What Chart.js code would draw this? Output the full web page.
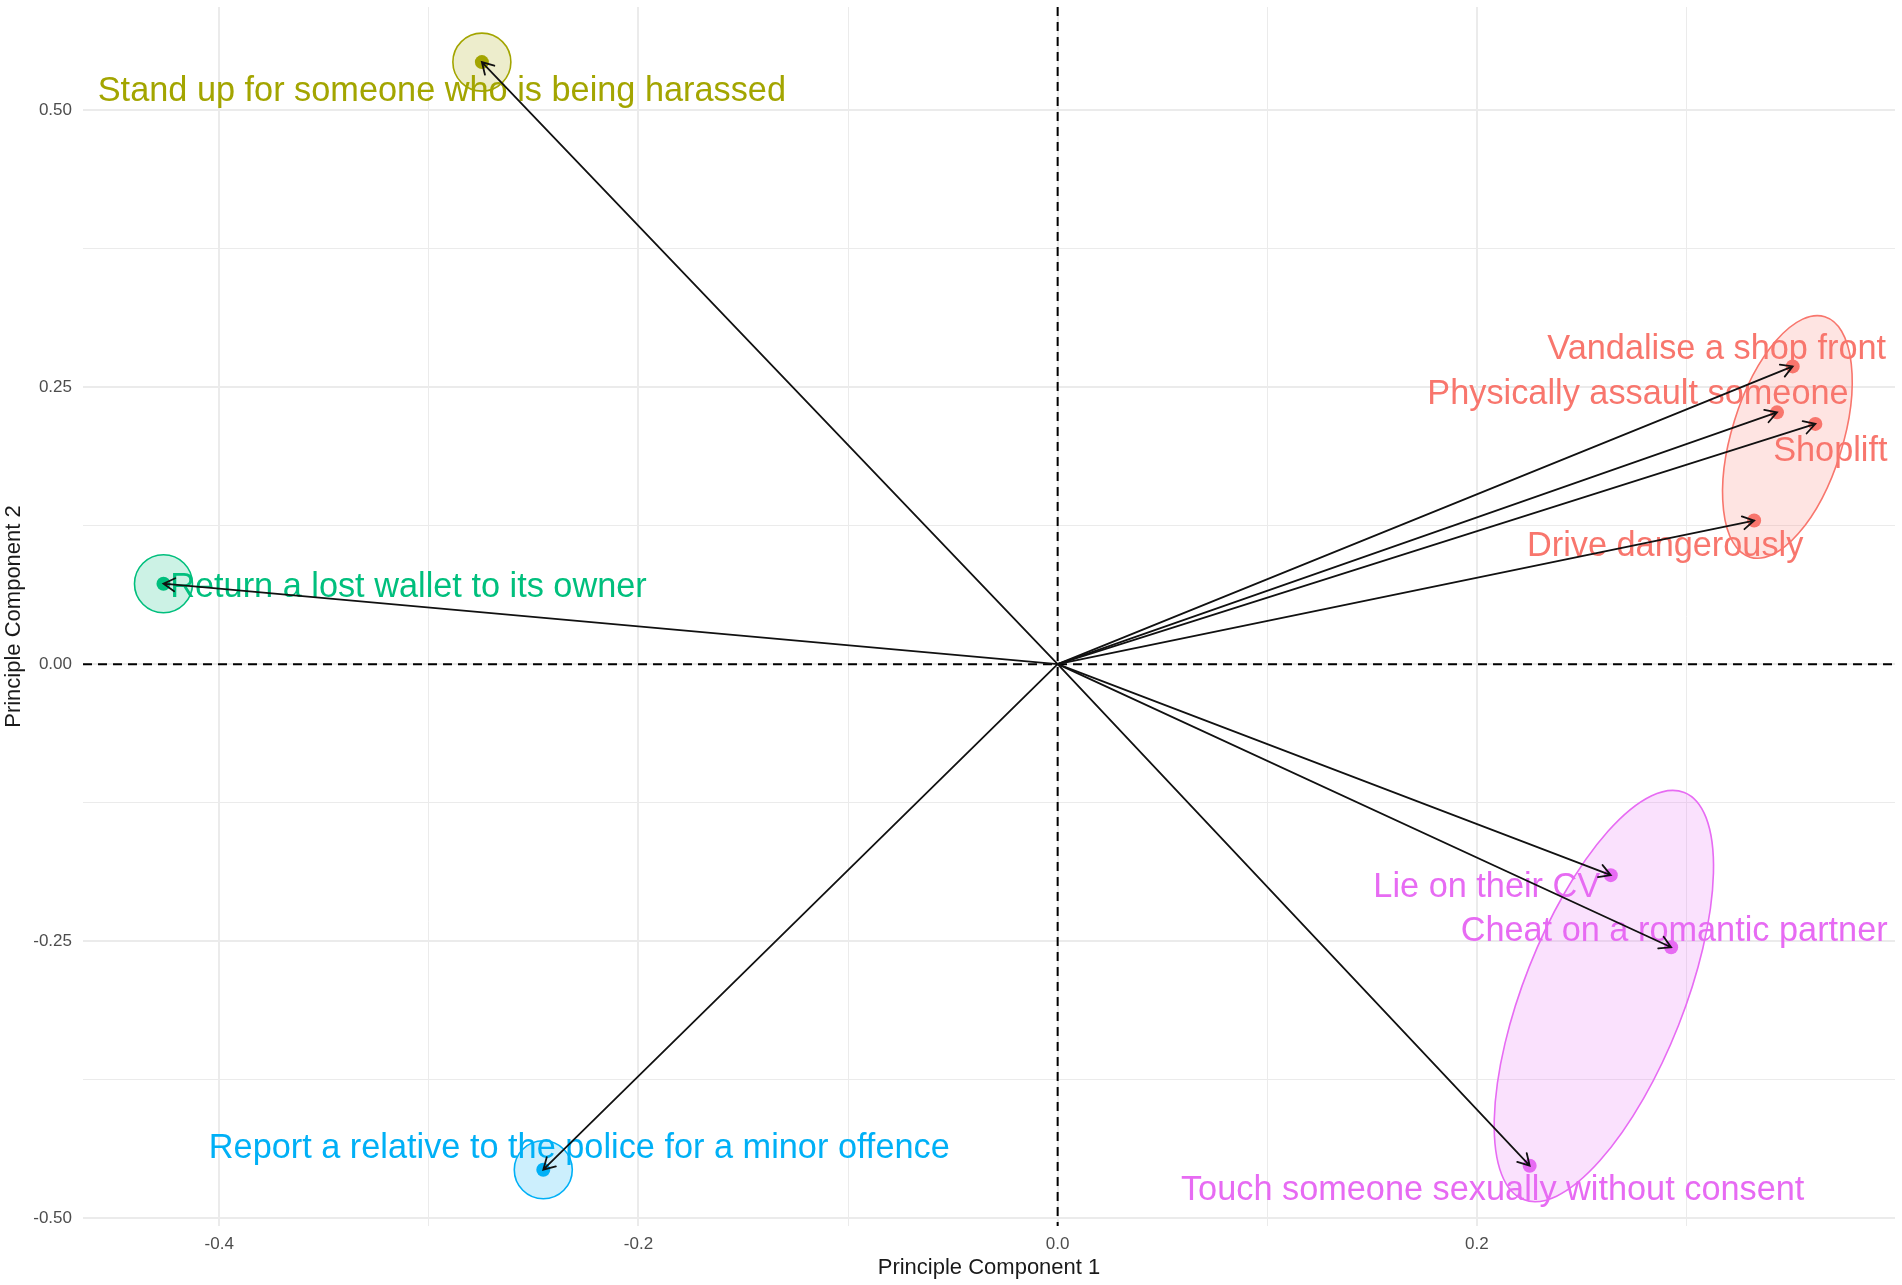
<!DOCTYPE html>
<html>
<head>
<meta charset="utf-8">
<title>PCA biplot</title>
<script src="https://cdn.jsdelivr.net/npm/chart.js@4.4.0/dist/chart.umd.min.js"></script>
<style>
  html, body { margin: 0; padding: 0; background: #ffffff; }
</style>
</head>
<body>
<canvas id="pca" width="1902" height="1285"></canvas>
<script>
// Behaviours and their loadings on the first two components
const items = [
    'Stand up for someone who is being harassed',
    'Return a lost wallet to its owner',
    'Report a relative to the police for a minor offence',
    'Vandalise a shop front',
    'Physically assault someone',
    'Shoplift',
    'Drive dangerously',
    'Lie on their CV',
    'Cheat on a romantic partner',
    'Touch someone sexually without consent'
];
const groups = ['defend', 'honest', 'report', 'crime', 'crime', 'crime', 'crime', 'betray', 'betray', 'betray'];
const pc1 = [-0.2747, -0.4266, -0.2454, 0.3507, 0.3432, 0.3615, 0.3323, 0.2639, 0.2927, 0.2252];
const pc2 = [0.5433, 0.0726, -0.4562, 0.2687, 0.2272, 0.2168, 0.1296, -0.1904, -0.2555, -0.4526];

// axis breaks
const xBreaks = [-0.4, -0.2, 0.0, 0.2];
const xBreakLabels = ['-0.4', '-0.2', '0.0', '0.2'];
const xMinorBreaks = [-0.3, -0.1, 0.1, 0.3];
const yBreaks = [-0.5, -0.25, 0.0, 0.25, 0.5];
const yBreakLabels = ['-0.50', '-0.25', '0.00', '0.25', '0.50'];
const yMinorBreaks = [-0.375, -0.125, 0.125, 0.375];

// styling (kept apart from the data)
const groupColors = {
    crime: '#F8766D',
    defend: '#A3A500',
    honest: '#00BF7D',
    report: '#00B0F6',
    betray: '#E76BF3'
};
// where each text label sits relative to its point, in pixels
const labelNudge = [
    [-40, 29], [245, 4], [36, -21], [-76, -17], [-139, -18],
    [15, 28], [-89, 26], [-124, 12], [3, -16], [-37, 25]
];
const FONT = "'Liberation Sans', Arial, Helvetica, sans-serif";
const markExpand = 29;   // padding round each group's ellipse

function sameValue(a, b) { return Math.abs(a - b) < 1e-9; }

function hexToRgba(hex, alpha) {
    const n = parseInt(hex.slice(1), 16);
    return 'rgba(' + (n >> 16 & 255) + ',' + (n >> 8 & 255) + ',' + (n & 255) + ',' + alpha + ')';
}

// minimum enclosing ellipse (Khachiyan), points in pixel space
function encloseEllipse(pts) {
    const n = pts.length;
    if (n === 1) return { cx: pts[0][0], cy: pts[0][1], a: 0, b: 0, angle: 0 };
    let u = new Array(n).fill(1 / n);
    for (let iter = 0; iter < 5000; iter++) {
        const X = [[0, 0, 0], [0, 0, 0], [0, 0, 0]];
        pts.forEach((p, i) => {
            const q = [p[0], p[1], 1];
            for (let r = 0; r < 3; r++)
                for (let c = 0; c < 3; c++) X[r][c] += u[i] * q[r] * q[c];
        });
        const Xi = invert3(X);
        let maxM = -Infinity, j = 0;
        pts.forEach((p, i) => {
            const q = [p[0], p[1], 1];
            let m = 0;
            for (let r = 0; r < 3; r++)
                for (let c = 0; c < 3; c++) m += q[r] * Xi[r][c] * q[c];
            if (m > maxM) { maxM = m; j = i; }
        });
        const step = (maxM - 3) / (3 * (maxM - 1));
        const next = u.map(v => v * (1 - step));
        next[j] += step;
        let err = 0;
        for (let i = 0; i < n; i++) err += (next[i] - u[i]) ** 2;
        u = next;
        if (Math.sqrt(err) < 1e-9) break;
    }
    let cx = 0, cy = 0;
    pts.forEach((p, i) => { cx += u[i] * p[0]; cy += u[i] * p[1]; });
    let sxx = 0, syy = 0, sxy = 0;
    pts.forEach((p, i) => {
        sxx += u[i] * (p[0] - cx) ** 2;
        syy += u[i] * (p[1] - cy) ** 2;
        sxy += u[i] * (p[0] - cx) * (p[1] - cy);
    });
    const mid = (sxx + syy) / 2;
    const rad = Math.sqrt(((sxx - syy) / 2) ** 2 + sxy * sxy);
    return {
        cx: cx, cy: cy,
        a: Math.sqrt(2 * (mid + rad)),
        b: Math.sqrt(Math.max(2 * (mid - rad), 0)),
        angle: 0.5 * Math.atan2(2 * sxy, sxx - syy)
    };
}

function invert3(m) {
    const [a, b, c] = m[0], [d, e, f] = m[1], [g, h, k] = m[2];
    const A = e * k - f * h, B = -(d * k - f * g), C = d * h - e * g;
    const det = a * A + b * B + c * C;
    return [
        [A / det, -(b * k - c * h) / det, (b * f - c * e) / det],
        [B / det, (a * k - c * g) / det, -(a * f - c * d) / det],
        [C / det, -(a * h - b * g) / det, (a * e - b * d) / det]
    ];
}

const biplotLayers = {
    id: 'biplotLayers',
    beforeDatasetsDraw(chart) {
        const { ctx, chartArea: area, scales: { x, y } } = chart;
        const x0 = x.getPixelForValue(0);
        const y0 = y.getPixelForValue(0);

        // dashed reference lines through the origin
        ctx.save();
        ctx.strokeStyle = '#000000';
        ctx.lineWidth = 2;
        ctx.setLineDash([9, 6]);
        ctx.beginPath();
        ctx.moveTo(area.left, y0);
        ctx.lineTo(area.right, y0);
        ctx.moveTo(x0, area.top);
        ctx.lineTo(x0, area.bottom);
        ctx.stroke();
        ctx.restore();

        // group ellipses
        Object.keys(groupColors).forEach(g => {
            const pts = [];
            items.forEach((name, i) => {
                if (groups[i] === g) pts.push([x.getPixelForValue(pc1[i]), y.getPixelForValue(pc2[i])]);
            });
            if (!pts.length) return;
            const e = encloseEllipse(pts);
            const grow = pts.length > 1 ? 3 : 0;
            ctx.save();
            ctx.beginPath();
            ctx.ellipse(e.cx, e.cy, e.a + markExpand + grow, e.b + markExpand + grow, e.angle, 0, Math.PI * 2);
            ctx.fillStyle = hexToRgba(groupColors[g], 0.2);
            ctx.fill();
            ctx.strokeStyle = groupColors[g];
            ctx.lineWidth = 1.6;
            ctx.stroke();
            ctx.restore();
        });
    },
    afterDatasetsDraw(chart) {
        const { ctx, scales: { x, y } } = chart;
        const x0 = x.getPixelForValue(0);
        const y0 = y.getPixelForValue(0);

        // text labels
        ctx.save();
        ctx.font = '34.3px ' + FONT;
        ctx.textAlign = 'center';
        ctx.textBaseline = 'middle';
        items.forEach((name, i) => {
            ctx.fillStyle = groupColors[groups[i]];
            ctx.fillText(name,
                x.getPixelForValue(pc1[i]) + labelNudge[i][0],
                y.getPixelForValue(pc2[i]) + labelNudge[i][1]);
        });
        ctx.restore();

        // loading arrows from the origin
        ctx.save();
        ctx.strokeStyle = '#111111';
        ctx.lineWidth = 1.8;
        ctx.lineCap = 'round';
        items.forEach((name, i) => {
            const px = x.getPixelForValue(pc1[i]);
            const py = y.getPixelForValue(pc2[i]);
            const ang = Math.atan2(py - y0, px - x0);
            const len = 13, spread = Math.PI / 6;
            ctx.beginPath();
            ctx.moveTo(x0, y0);
            ctx.lineTo(px, py);
            ctx.moveTo(px - len * Math.cos(ang - spread), py - len * Math.sin(ang - spread));
            ctx.lineTo(px, py);
            ctx.lineTo(px - len * Math.cos(ang + spread), py - len * Math.sin(ang + spread));
            ctx.stroke();
        });
        ctx.restore();
    }
};

function breakTicks(major, minor) {
    return major.concat(minor).sort((a, b) => a - b).map(v => ({ value: v }));
}

const ctx = document.getElementById('pca').getContext('2d');
const chart = new Chart(ctx, {
    type: 'scatter',
    data: {
        datasets: [{
            data: items.map((name, i) => ({ x: pc1[i], y: pc2[i] })),
            pointRadius: 7,
            pointHoverRadius: 7,
            pointBorderWidth: 0,
            pointBackgroundColor: groups.map(g => groupColors[g])
        }]
    },
    options: {
        responsive: false,
        devicePixelRatio: 1,
        animation: false,
        layout: { padding: { top: 6, right: 7, left: 0, bottom: 0 } },
        plugins: { legend: { display: false }, tooltip: { enabled: false } },
        scales: {
            x: {
                type: 'linear',
                min: -0.465,
                max: 0.3995,
                afterBuildTicks: scale => { scale.ticks = breakTicks(xBreaks, xMinorBreaks); },
                afterFit: scale => { scale.height = 59; scale.paddingLeft = 0; scale.paddingRight = 0; },
                border: { display: false },
                grid: {
                    drawTicks: false,
                    color: '#ebebeb',
                    lineWidth: c => xBreaks.some(v => sameValue(v, c.tick.value)) ? 2 : 1
                },
                ticks: {
                    autoSkip: false,
                    maxRotation: 0,
                    padding: 8,
                    color: '#4d4d4d',
                    font: { family: FONT, size: 17 },
                    callback: value => {
                        const k = xBreaks.findIndex(v => sameValue(v, value));
                        return k >= 0 ? xBreakLabels[k] : '';
                    }
                },
                title: {
                    display: true,
                    text: 'Principle Component 1',
                    color: '#1a1a1a',
                    font: { family: FONT, size: 22 },
                    padding: { top: 0, bottom: 4 }
                }
            },
            y: {
                type: 'linear',
                min: -0.507,
                max: 0.593,
                afterBuildTicks: scale => { scale.ticks = breakTicks(yBreaks, yMinorBreaks); },
                afterFit: scale => { scale.width = 83; scale.paddingTop = 0; scale.paddingBottom = 0; },
                border: { display: false },
                grid: {
                    drawTicks: false,
                    color: '#ebebeb',
                    lineWidth: c => yBreaks.some(v => sameValue(v, c.tick.value)) ? 2 : 1
                },
                ticks: {
                    autoSkip: false,
                    padding: 11,
                    color: '#4d4d4d',
                    font: { family: FONT, size: 17 },
                    callback: value => {
                        const k = yBreaks.findIndex(v => sameValue(v, value));
                        return k >= 0 ? yBreakLabels[k] : '';
                    }
                },
                title: {
                    display: true,
                    text: 'Principle Component 2',
                    color: '#1a1a1a',
                    font: { family: FONT, size: 22 },
                    padding: { top: 1, bottom: 0 }
                }
            }
        }
    },
    plugins: [biplotLayers]
});
</script>
</body>
</html>
